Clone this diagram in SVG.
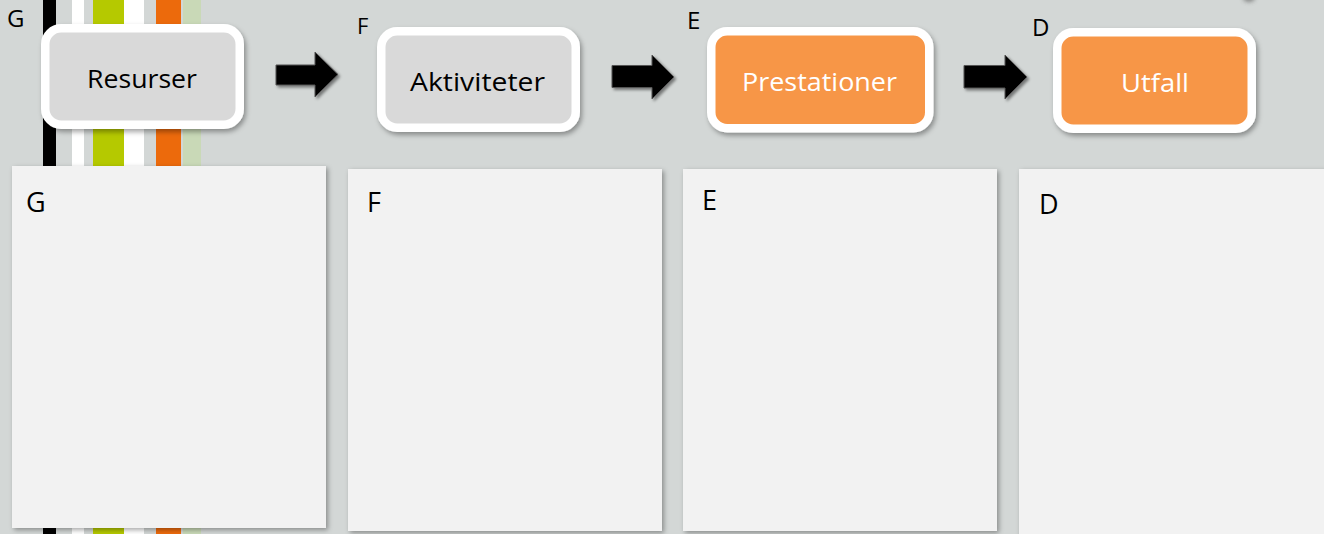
<svg xmlns="http://www.w3.org/2000/svg" width="1324" height="534" viewBox="0 0 1324 534">
  <defs>
    <filter id="sh" x="-10%" y="-10%" width="130%" height="140%">
      <feDropShadow dx="2" dy="3" stdDeviation="2.5" flood-color="#000" flood-opacity="0.35"/>
    </filter>
    <filter id="psh" x="-5%" y="-5%" width="115%" height="115%">
      <feDropShadow dx="2" dy="2" stdDeviation="2.5" flood-color="#000" flood-opacity="0.35"/>
    </filter>
    <filter id="ash" x="-20%" y="-20%" width="150%" height="150%">
      <feDropShadow dx="2" dy="2" stdDeviation="1.5" flood-color="#000" flood-opacity="0.45"/>
    </filter>
    <filter id="blur" x="-100%" y="-100%" width="300%" height="300%">
      <feGaussianBlur stdDeviation="2"/>
    </filter>
    <style>
      .lbl { font-family: "Open Sans", "Liberation Sans", sans-serif; fill: #000; }
      .box { stroke: #ffffff; stroke-width: 8.5; filter: url(#sh); }
      .gray { fill: #d9d9d9; }
      .orange { fill: #f79646; }
      .btxt { font-family: "Open Sans", "Liberation Sans", sans-serif; font-size: 26px; text-anchor: middle; }
      .panel { fill: #f2f2f2; filter: url(#psh); }
      .arrow { fill: #000; stroke: #555; stroke-width: 1; filter: url(#ash); }
    </style>
  </defs>

  <rect x="0" y="0" width="1324" height="534" fill="#d3d7d6"/>

  <!-- decorative stripes -->
  <g id="stripes">
    <rect x="43" y="0" width="13" height="534" fill="#000000"/>
    <rect x="72" y="0" width="12" height="534" fill="#ffffff"/>
    <rect x="93" y="0" width="31" height="534" fill="#b5c900"/>
    <rect x="124" y="0" width="20" height="534" fill="#ffffff"/>
    <rect x="156" y="0" width="25" height="534" fill="#ec6a0c"/>
    <rect x="183" y="0" width="18" height="534" fill="#c9d9b7"/>
  </g>

  <!-- faint shadow at top right -->
  <ellipse cx="1249" cy="-2" rx="6" ry="4" fill="#555" opacity="0.6" filter="url(#blur)"/>

  <!-- panels -->
  <g id="panel-g">
    <rect class="panel" x="12" y="166" width="314" height="362"/>
    <text class="lbl" x="26" y="212" font-size="27">G</text>
  </g>
  <g id="panel-f">
    <rect class="panel" x="348" y="169" width="314" height="362"/>
    <text class="lbl" x="367" y="212" font-size="27">F</text>
  </g>
  <g id="panel-e">
    <rect class="panel" x="683" y="169" width="314" height="362"/>
    <text class="lbl" x="702" y="210" font-size="27">E</text>
  </g>
  <g id="panel-d">
    <rect class="panel" x="1019" y="169" width="320" height="380"/>
    <text class="lbl" x="1039" y="214" font-size="27">D</text>
  </g>

  <!-- top labels -->
  <text class="lbl" x="7" y="27" font-size="24">G</text>
  <text class="lbl" x="357" y="34" font-size="22">F</text>
  <text class="lbl" x="687" y="29" font-size="24">E</text>
  <text class="lbl" x="1032" y="36" font-size="24">D</text>

  <!-- nodes -->
  <g id="node-resurser">
    <rect class="box gray" x="45.25" y="28.25" width="194.5" height="96.5" rx="16"/>
    <text class="btxt" x="142" y="88" textLength="110" lengthAdjust="spacingAndGlyphs">Resurser</text>
  </g>
  <g id="node-aktiviteter">
    <rect class="box gray" x="381.25" y="31.25" width="194.5" height="96.5" rx="16"/>
    <text class="btxt" x="477.5" y="91" textLength="135" lengthAdjust="spacingAndGlyphs">Aktiviteter</text>
  </g>
  <g id="node-prestationer">
    <rect class="box orange" x="711.25" y="31.25" width="218" height="97" rx="16"/>
    <text class="btxt" x="819.5" y="91" fill="#ffffff" textLength="155" lengthAdjust="spacingAndGlyphs">Prestationer</text>
  </g>
  <g id="node-utfall">
    <rect class="box orange" x="1057.25" y="32.25" width="194.5" height="96.5" rx="16"/>
    <text class="btxt" x="1155" y="92" fill="#ffffff" textLength="68" lengthAdjust="spacingAndGlyphs">Utfall</text>
  </g>

  <!-- connectors -->
  <g id="connectors">
    <path class="arrow" d="M276,65 H315 V52 L338,74.5 L315,97 V85 H276 Z"/>
    <path class="arrow" d="M612,65.5 H652 V55 L674,77 L652,99 V87.5 H612 Z"/>
    <path class="arrow" d="M964,65.5 H1005 V55 L1027,77 L1005,99 V88 H964 Z"/>
  </g>
</svg>
